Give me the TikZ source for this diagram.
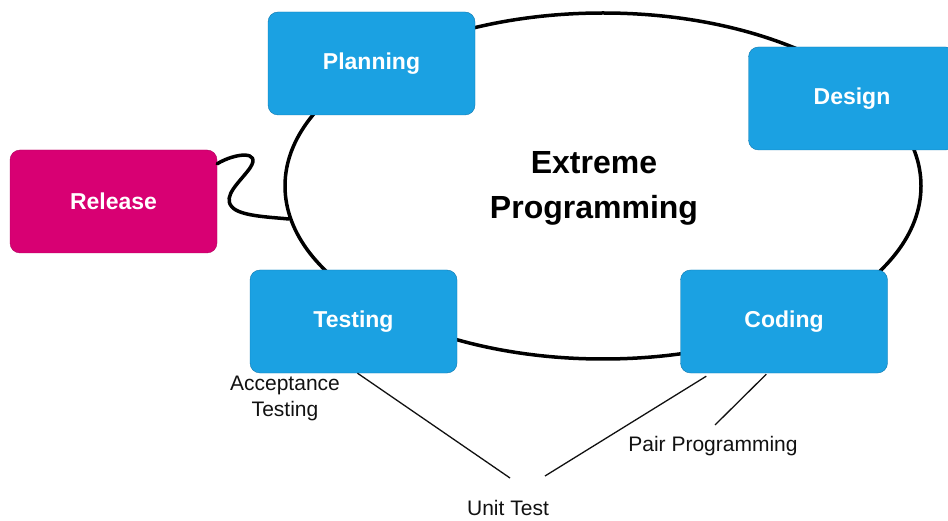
\documentclass[tikz,border=0pt]{standalone}
\usepackage{fontspec}
\setmainfont{Liberation Sans}
\usepackage{xcolor}
\usetikzlibrary{positioning,shapes.geometric,calc}
\definecolor{xpBlue}{HTML}{1BA1E2}
\definecolor{xpBlueLine}{HTML}{0E78B0}
\definecolor{xpPink}{HTML}{D80073}
\definecolor{xpPinkLine}{HTML}{B0005E}
\definecolor{xpGray}{HTML}{111111}

\begin{document}
\begin{tikzpicture}[
  x=1pt, y=-1pt,
  box/.style={draw=xpBlueLine, fill=xpBlue, rounded corners=10pt, minimum width=207pt, minimum height=103pt, text=white, font=\fontsize{23}{28}\selectfont\bfseries},
  rel/.style={box, draw=xpPinkLine, fill=xpPink},
  ring/.style={draw, ellipse, line width=3.5pt, inner sep=0pt, minimum width=636pt, minimum height=346pt},
  title/.style={align=center, font=\fontsize{32}{45}\selectfont\bfseries},
  lab/.style={font=\fontsize{21}{26}\selectfont, text=xpGray, align=center},
  lnk/.style={line width=1.3pt, color=xpGray},
  wire/.style={line width=3.5pt, line cap=round}
]
\useasboundingbox (0,0) rectangle (948,521);
\node[ring] (xp) at (603,186) {};
\node[title] (name) at (594,188) {Extreme\\Programming};
% phases
\node[box] (plan) at (371.5,63.5) {Planning};
\node[box] (design) at (852,98.5) {Design};
\node[rel] (release) at (113.5,201.5) {Release};
\node[box] (test) at (353.5,321.5) {Testing};
\node[box] (code) at (784,321.5) {Coding};
% practices
\node[lab] (accept) at (285,398) {Acceptance\\Testing};
\node[lab] (unit) at (508,508) {Unit Test};
\node[lab] (pair) at (713,446) {Pair Programming};
\coordinate (unitA) at (510,478);
\coordinate (unitB) at (545,476);
\coordinate (pairA) at (715,425);
\draw[wire] (release.20) .. controls (235,153) and (262,150) .. (250,168)
  .. controls (240,182) and (222,196) .. (232,207)
  .. controls (240,216) and (268,217) .. (xp.186);
\draw[lnk] ([xshift=4pt]test.south) -- (unitA);
\draw[lnk] ([xshift=26pt,yshift=-3pt]code.south west) -- (unitB);
\draw[lnk] ([xshift=86pt,yshift=-1pt]code.south west) -- (pairA);
\end{tikzpicture}
\end{document}
